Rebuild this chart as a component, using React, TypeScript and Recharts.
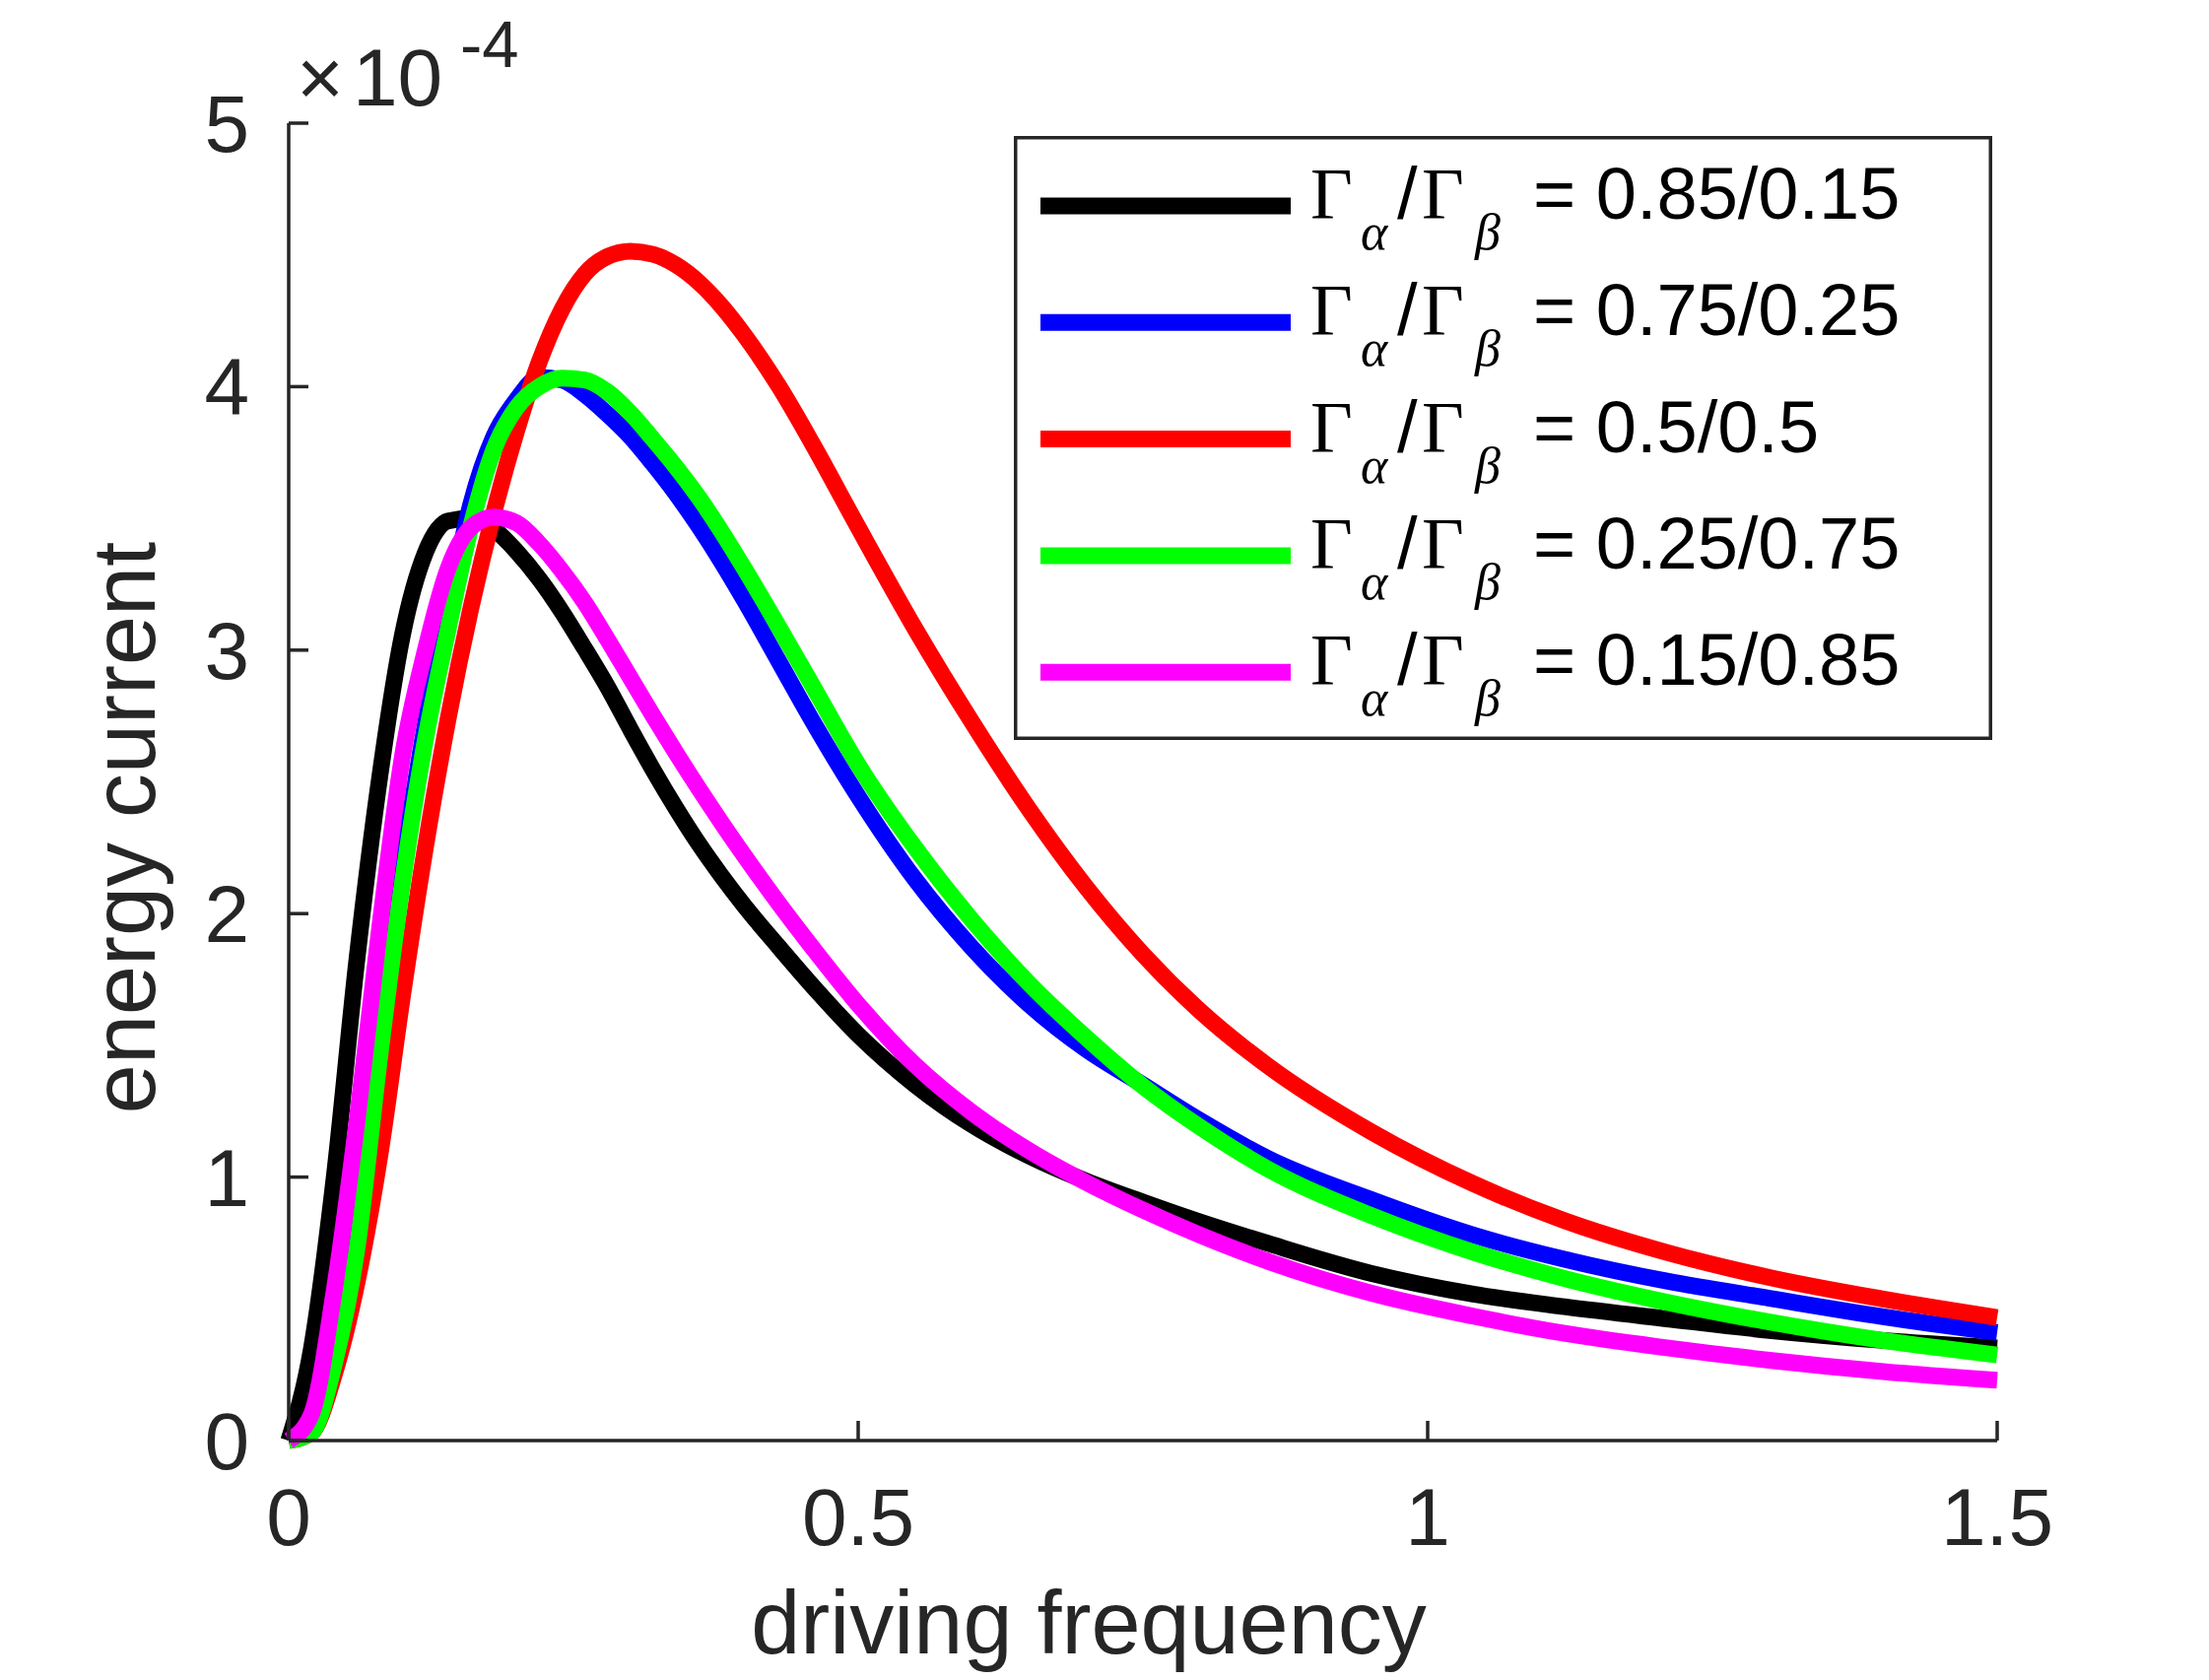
import React from "react";
import { LineChart, Line, XAxis, YAxis, Legend } from "recharts";

// driving frequency (x axis)
const freq = [
  0, 0.02, 0.04, 0.06, 0.08, 0.1, 0.12, 0.14, 0.16, 0.18, 0.2, 0.22, 0.24, 0.26, 0.28, 0.3, 0.32, 0.34, 0.36,
  0.38, 0.4, 0.43, 0.46, 0.5, 0.55, 0.6, 0.65, 0.7, 0.75, 0.8, 0.86, 0.95, 1.04, 1.12, 1.21, 1.3, 1.4, 1.5,
];

// energy current, in units of 1e-4
const ratio85 = [
  0, 0.35, 1.0, 1.83, 2.52, 3.06, 3.37, 3.49, 3.5, 3.46, 3.375, 3.27, 3.145, 3.005, 2.86, 2.7, 2.545, 2.4, 2.265,
  2.143, 2.03, 1.875, 1.725, 1.54, 1.35, 1.198, 1.08, 0.985, 0.905, 0.83, 0.748, 0.635, 0.556, 0.508, 0.462, 0.418,
  0.38, 0.352,
];
const ratio75 = [
  0, 0.04, 0.32, 0.78, 1.51, 2.18, 2.72, 3.16, 3.556, 3.81, 3.95, 4.035, 4.025, 3.97, 3.895, 3.81, 3.706, 3.594,
  3.47, 3.335, 3.19, 2.96, 2.73, 2.445, 2.13, 1.87, 1.655, 1.485, 1.35, 1.215, 1.07, 0.915, 0.78, 0.688, 0.605,
  0.54, 0.47, 0.41,
];
const ratio50 = [
  0, 0.03, 0.25, 0.6, 1.08, 1.69, 2.25, 2.74, 3.16, 3.52, 3.83, 4.094, 4.294, 4.428, 4.494, 4.514, 4.502, 4.462,
  4.396, 4.306, 4.196, 4.004, 3.782, 3.466, 3.081, 2.726, 2.396, 2.101, 1.846, 1.631, 1.421, 1.173, 0.975, 0.835,
  0.714, 0.619, 0.537, 0.467,
];
const ratio25 = [
  0, 0.03, 0.29, 0.73, 1.46, 2.12, 2.66, 3.08, 3.47, 3.76, 3.92, 4.0, 4.032, 4.025, 3.98, 3.9, 3.8, 3.695, 3.58,
  3.45, 3.31, 3.09, 2.865, 2.565, 2.25, 1.975, 1.735, 1.53, 1.345, 1.19, 1.03, 0.855, 0.715, 0.615, 0.525, 0.45,
  0.38, 0.325,
];
const ratio15 = [
  0, 0.1, 0.57, 1.213, 1.95, 2.6, 3.0, 3.31, 3.465, 3.505, 3.483, 3.404, 3.3, 3.18, 3.04, 2.895, 2.75, 2.61, 2.475,
  2.345, 2.22, 2.04, 1.87, 1.655, 1.425, 1.245, 1.1, 0.98, 0.875, 0.78, 0.68, 0.56, 0.472, 0.407, 0.352, 0.305,
  0.262, 0.229,
];

const xTicks = [0, 0.5, 1, 1.5];
const yTicks = [0, 1, 2, 3, 4, 5];

const SERIES = [
  { key: "r85", values: ratio85, color: "#000000", ratio: "0.85/0.15" },
  { key: "r75", values: ratio75, color: "#0000ff", ratio: "0.75/0.25" },
  { key: "r50", values: ratio50, color: "#ff0000", ratio: "0.5/0.5" },
  { key: "r25", values: ratio25, color: "#00ff00", ratio: "0.25/0.75" },
  { key: "r15", values: ratio15, color: "#ff00ff", ratio: "0.15/0.85" },
];

const data = freq.map((f, i) => {
  const row: any = { f };
  SERIES.forEach((s) => {
    row[s.key] = s.values[i];
  });
  return row;
});

const W = 2242;
const H = 1705;
const AXIS = "#262626";
const SANS = "'Liberation Sans', Arial, Helvetica, sans-serif";
const SERIF = "'Liberation Serif', 'Times New Roman', serif";
const LEG = { left: 1029, top: 138, width: 993, height: 613 };

// ticks point inwards, like matlab
const XTick = (props: any) => {
  const { x, y, payload } = props;
  return (
    <g>
      <line x1={x} y1={y} x2={x} y2={y - 20} stroke={AXIS} strokeWidth={3.5} />
      <text x={x} y={y + 106} textAnchor="middle" fontFamily={SANS} fontSize={82} fill={AXIS}>
        {String(payload.value)}
      </text>
    </g>
  );
};

const YTick = (props: any) => {
  const { x, y, payload } = props;
  return (
    <g>
      <line x1={x} y1={y} x2={x + 20} y2={y} stroke={AXIS} strokeWidth={3.5} />
      <text x={x - 40} y={y + 29} textAnchor="end" fontFamily={SANS} fontSize={82} fill={AXIS}>
        {String(payload.value)}
      </text>
      {payload.value === 5 && (
        <text fontFamily={SANS} fill={AXIS}>
          <tspan x={301} y={107} fontSize={82}>×</tspan>
          <tspan x={358} y={107} fontSize={82}>10</tspan>
          <tspan x={467} y={68} fontSize={67}>-4</tspan>
        </text>
      )}
    </g>
  );
};

const renderLegend = () => (
  <svg width={LEG.width} height={LEG.height} style={{ display: "block" }}>
    <rect x={1.75} y={1.75} width={LEG.width - 3.5} height={LEG.height - 3.5} fill="#fff" stroke={AXIS} strokeWidth={3.5} />
    {SERIES.map((s, i) => {
      const base = 84 + i * 118.3;
      const mid = 71 + i * 118.3;
      return (
        <g key={s.key}>
          <line x1={27} x2={281} y1={mid} y2={mid} stroke={s.color} strokeWidth={17} />
          <text y={base} fontSize={74} fill="#000">
            <tspan x={301} fontFamily={SERIF}>Γ</tspan>
            <tspan x={352} dy={31} fontFamily={SERIF} fontStyle="italic" fontSize={52}>α</tspan>
            <tspan x={389} dy={-31} fontFamily={SANS}>/</tspan>
            <tspan x={414} fontFamily={SERIF}>Γ</tspan>
            <tspan x={468} dy={31} fontFamily={SERIF} fontStyle="italic" fontSize={52}>β</tspan>
            <tspan x={527} dy={-31} fontFamily={SANS}>= {s.ratio}</tspan>
          </text>
        </g>
      );
    })}
  </svg>
);

export default function App() {
  return (
    <div style={{ position: "absolute", left: 0, top: 0, width: W, height: H, background: "#fff" }}>
      <LineChart width={W} height={H} data={data} margin={{ top: 125, right: 215, bottom: 143, left: 193 }}>
        <XAxis
          type="number"
          dataKey="f"
          domain={[0, 1.5]}
          ticks={xTicks}
          interval={0}
          height={100}
          axisLine={{ stroke: AXIS, strokeWidth: 3.5 }}
          tickLine={false}
          tickSize={0}
          tickMargin={0}
          tick={XTick}
          label={() => (
            <text x={1105} y={1678} textAnchor="middle" fontFamily={SANS} fontSize={90} fill={AXIS}>
              driving frequency
            </text>
          )}
        />
        <YAxis
          type="number"
          domain={[0, 5]}
          ticks={yTicks}
          interval={0}
          width={100}
          axisLine={{ stroke: AXIS, strokeWidth: 3.5 }}
          tickLine={false}
          tickSize={0}
          tickMargin={0}
          tick={YTick}
          label={() => (
            <text
              transform="translate(157,840) rotate(-90)"
              textAnchor="middle"
              fontFamily={SANS}
              fontSize={90}
              fill={AXIS}
            >
              energy current
            </text>
          )}
        />
        {SERIES.map((s) => (
          <Line
            key={s.key}
            type="monotone"
            dataKey={s.key}
            stroke={s.color}
            strokeWidth={17}
            strokeLinejoin="round"
            strokeLinecap="butt"
            dot={false}
            activeDot={false}
            isAnimationActive={false}
          />
        ))}
        <Legend
          layout="vertical"
          align="center"
          verticalAlign="middle"
          wrapperStyle={{ left: LEG.left, top: LEG.top, width: LEG.width, height: LEG.height }}
          content={renderLegend}
        />
      </LineChart>
    </div>
  );
}
